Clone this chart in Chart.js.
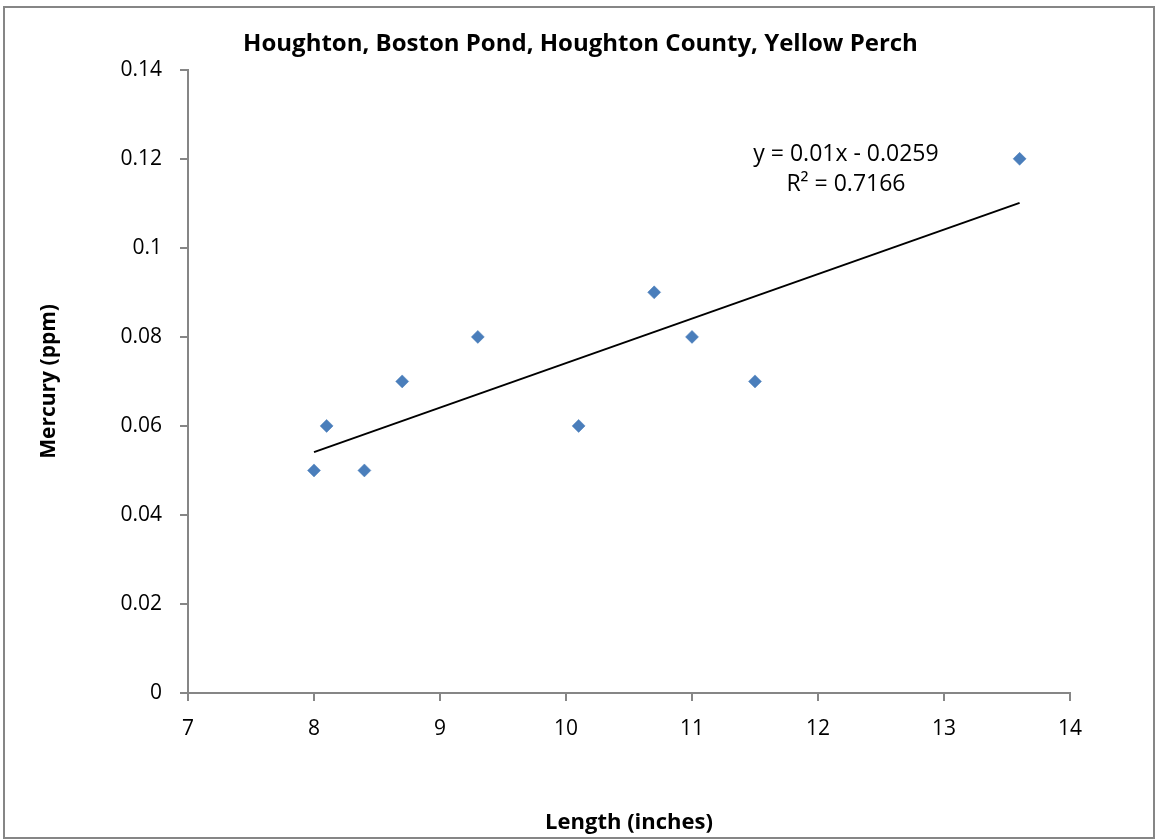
<!DOCTYPE html>
<html>
<head>
<meta charset="utf-8">
<script src="https://cdn.jsdelivr.net/npm/chart.js@4.4.1/dist/chart.umd.min.js"></script>
<style>
  html, body { margin: 0; padding: 0; background: #fff; }
  #wrap { position: relative; width: 1156px; height: 840px; }
</style>
</head>
<body>
<div id="wrap"><canvas id="chartPerch"></canvas></div>
<script>
// Datos
const lengths = [8, 8.1, 8.4, 8.7, 9.3, 10.1, 10.7, 11, 11.5, 13.6];
const mercury = [0.05, 0.06, 0.05, 0.07, 0.08, 0.06, 0.09, 0.08, 0.07, 0.12];
const trendX = [8, 13.6];
const trendY = [0.0541, 0.1101];
const yTickLabels = ['0', '0.02', '0.04', '0.06', '0.08', '0.1', '0.12', '0.14'];
const xTickLabels = ['7', '8', '9', '10', '11', '12', '13', '14'];
const equationLines = ['y = 0.01x - 0.0259', 'R\u00B2 = 0.7166'];

const FONT = "'Open Sans', 'Liberation Sans', sans-serif";
const AXIS_GRAY = '#868686';

// Marco exterior + ecuación de tendencia
const extras = {
  id: 'extras',
  afterLayout(chart) {
    // centrar el título sobre todo el lienzo
    if (chart.titleBlock) {
      chart.titleBlock.left = 5;
      chart.titleBlock.right = 1156;
      chart.titleBlock.width = 1151;
    }
  },
  afterDraw(chart) {
    const ctx = chart.ctx;
    const area = chart.chartArea;
    ctx.save();
    ctx.strokeStyle = AXIS_GRAY;
    ctx.lineWidth = 2;
    ctx.strokeRect(4, 7, 1150, 831);

    ctx.fillStyle = '#000';
    ctx.font = '23px ' + FONT;
    ctx.textAlign = 'center';
    ctx.textBaseline = 'middle';
    const cx = area.left + (area.right - area.left) * 0.746;
    ctx.fillText(equationLines[0], cx, area.top + 85);
    ctx.fillText(equationLines[1], cx, area.top + 115);
    ctx.restore();
  }
};

const canvas = document.getElementById('chartPerch');
new Chart(canvas.getContext('2d'), {
  type: 'scatter',
  data: {
    datasets: [{
      label: 'Mercury',
      data: lengths.map((x, i) => ({ x: x, y: mercury[i] })),
      pointStyle: 'rectRot',
      pointRadius: 6.5,
      pointHoverRadius: 6.5,
      backgroundColor: '#4A7EBB',
      borderColor: '#4A7EBB',
      borderWidth: 0.5
    }, {
      label: 'Trend',
      data: trendX.map((x, i) => ({ x: x, y: trendY[i] })),
      showLine: true,
      pointRadius: 0,
      borderColor: '#000',
      borderWidth: 2,
      fill: false
    }]
  },
  options: {
    responsive: true,
    maintainAspectRatio: false,
    animation: false,
    layout: { padding: { left: 0, right: 86, top: 0, bottom: 4 } },
    plugins: {
      legend: { display: false },
      tooltip: { enabled: false },
      title: {
        display: true,
        text: 'Houghton, Boston Pond, Houghton County, Yellow Perch',
        color: '#000',
        font: { family: FONT, size: 24, weight: 'bold' },
        padding: { top: 30, bottom: 11 }
      }
    },
    scales: {
      x: {
        type: 'linear',
        min: 7,
        max: 14,
        afterFit: s => { s.height = 143; },
        afterBuildTicks: s => {
          s.ticks = xTickLabels.map(t => ({ value: Number(t) }));
        },
        ticks: {
          color: '#000',
          padding: 15,
          font: { family: FONT, size: 21 },
          callback: (v, i) => xTickLabels[i]
        },
        grid: { drawOnChartArea: false, color: AXIS_GRAY, lineWidth: 2, tickLength: 8 },
        border: { color: AXIS_GRAY, width: 2 },
        title: {
          display: true,
          text: 'Length (inches)',
          color: '#000',
          font: { family: FONT, size: 22, weight: 'bold' },
          padding: { top: 0, bottom: 0 }
        }
      },
      y: {
        type: 'linear',
        min: 0,
        max: 0.14,
        afterFit: s => { s.width = 188; },
        afterBuildTicks: s => {
          s.ticks = yTickLabels.map(t => ({ value: Number(t) }));
        },
        ticks: {
          color: '#000',
          padding: 18,
          font: { family: FONT, size: 21 },
          callback: (v, i) => yTickLabels[i]
        },
        grid: { drawOnChartArea: false, color: AXIS_GRAY, lineWidth: 2, tickLength: 8 },
        border: { color: AXIS_GRAY, width: 2 },
        title: {
          display: true,
          text: 'Mercury (ppm)',
          color: '#000',
          font: { family: FONT, size: 21, weight: 'bold' },
          padding: { top: 36, bottom: 0 }
        }
      }
    }
  },
  plugins: [extras]
});
</script>
</body>
</html>
